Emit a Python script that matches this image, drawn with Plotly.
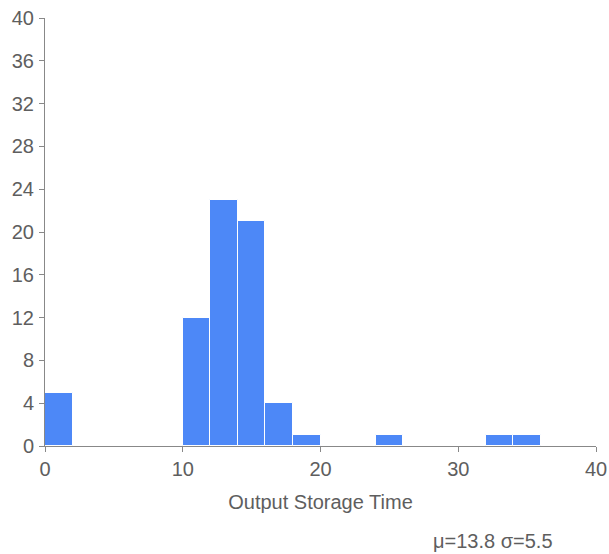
import plotly.graph_objects as go

# Histogram bins (left edge, width 2) and counts
bin_left = [0, 10, 12, 14, 16, 18, 24, 32, 34]
counts = [5, 12, 23, 21, 4, 1, 1, 1, 1]
bin_width = 2
x_ticks = [0, 10, 20, 30, 40]
y_ticks = [0, 4, 8, 12, 16, 20, 24, 28, 32, 36, 40]
mu, sigma = 13.8, 5.5

centers = [b + bin_width / 2 for b in bin_left]

fig = go.Figure(
    go.Bar(
        x=centers,
        y=counts,
        width=[bin_width] * len(counts),
        marker=dict(color="#4d88f7", line=dict(color="white", width=1)),
        hoverinfo="x+y",
    )
)

axis_font = dict(family="Liberation Sans, Arial, sans-serif", size=20, color="#5e5e5e")

common_axis = dict(
    range=[0, 40],
    showgrid=False,
    zeroline=False,
    showline=True,
    linecolor="#888888",
    linewidth=1,
    ticks="outside",
    ticklen=5,
    tickcolor="#888888",
    tickfont=axis_font,
    automargin=False,
)

fig.update_layout(
    width=609,
    height=554,
    margin=dict(l=45, r=13, t=18, b=108),
    plot_bgcolor="white",
    paper_bgcolor="white",
    showlegend=False,
    bargap=0,
    font=axis_font,
    xaxis=dict(
        tickvals=x_ticks,
        title=dict(text="Output Storage Time", font=axis_font, standoff=15),
        **common_axis,
    ),
    yaxis=dict(
        tickvals=y_ticks,
        ticklabelstandoff=1,
        **common_axis,
    ),
    annotations=[
        dict(
            text=f"μ={mu} σ={sigma}",
            xref="paper",
            yref="paper",
            x=(555 - 45) / 551,
            y=-(541 - 446) / 428,
            xanchor="right",
            yanchor="middle",
            showarrow=False,
            font=axis_font,
        )
    ],
)

fig.write_html("out.html")
